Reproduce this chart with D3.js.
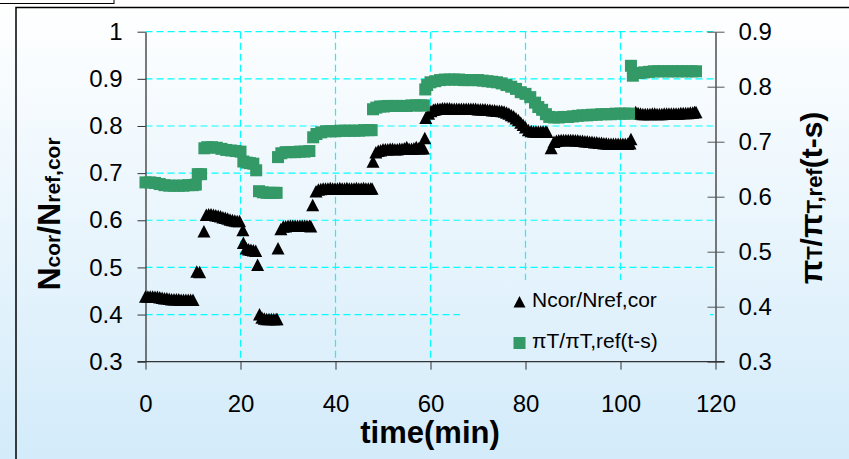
<!DOCTYPE html>
<html><head><meta charset="utf-8">
<script src="https://cdn.jsdelivr.net/npm/d3@7"></script>
<style>body{margin:0;padding:0;overflow:hidden}svg{display:block;font-family:"Liberation Sans",Arial,sans-serif}</style>
</head><body>
<script>
// ---- data ----
const xTicks = [0, 20, 40, 60, 80, 100, 120];
const xGridTicks = [20, 40, 60, 80, 100];
const leftTicks = [0.3, 0.4, 0.5, 0.6, 0.7, 0.8, 0.9, 1.0];
const leftTickLabels = ["0.3", "0.4", "0.5", "0.6", "0.7", "0.8", "0.9", "1"];
const rightTicks = [0.3, 0.4, 0.5, 0.6, 0.7, 0.8, 0.9];
const rightTickLabels = ["0.3", "0.4", "0.5", "0.6", "0.7", "0.8", "0.9"];
const seriesNames = ["Ncor/Nref,cor", "\u03c0T/\u03c0T,ref(t-s)"];

// Ncor/Nref,cor  [time(min), value]  (left axis)
const nCor = [
 [0,.438],[0.5,.438],[1,.438],[1.5,.438],[2,.437],[2.5,.437],[3,.436],[3.5,.435],[4,.434],[4.5,.434],[5,.433],[5.5,.432],[6,.432],[6.5,.432],[7,.432],[7.5,.431],[8,.431],[8.5,.431],[9,.431],[9.5,.431],[10,.431],
 [10.8,.491],[11.4,.490],[12.3,.576],
 [12.8,.611],[13.3,.612],[13.8,.612],[14.3,.611],[14.8,.610],[15.3,.609],[15.8,.608],[16.3,.606],[16.8,.605],[17.3,.603],[17.8,.601],[18.3,.600],[18.8,.599],[19.3,.598],[19.8,.598],
 [20.5,.579],[20.6,.552],[21.2,.540],[21.7,.538],[22.2,.537],[22.7,.536],[23.2,.535],[23.6,.505],
 [24,.400],[24.5,.393],[25,.391],[25.5,.390],[26,.390],[26.5,.390],[27,.390],[27.5,.390],[27.7,.390],
 [27.9,.540],[28.5,.581],[29,.586],[29.5,.587],[30,.588],[30.5,.588],[31,.588],[31.5,.588],[32,.588],[32.5,.588],[33,.588],[33.5,.588],[34,.588],[34.5,.588],[34.8,.587],
 [35.2,.632],
 [35.9,.661],[36.4,.665],[36.9,.666],[37.4,.667],[37.9,.667],[38.4,.667],[38.9,.668],[39.4,.667],[39.9,.667],[40.4,.667],[40.9,.668],[41.4,.667],[41.9,.667],[42.4,.668],[42.9,.667],[43.4,.667],[43.9,.667],[44.4,.668],[44.9,.667],[45.4,.667],[45.9,.668],[46.4,.667],[46.9,.667],[47.4,.667],[47.7,.667],
 [47.9,.724],
 [48.5,.744],[49,.747],[49.5,.748],[50,.750],[50.5,.750],[51,.750],[51.5,.751],[52,.751],[52.5,.750],[53,.750],[53.5,.751],[54,.751],[54.5,.752],[55,.755],[55.5,.751],[56,.751],[56.5,.752],[57,.755],[57.5,.752],[58,.752],[58.5,.752],
 [58.8,.774],[59,.817],[59.6,.826],[60.1,.831],[60.6,.834],
 [61,.835],[61.5,.836],[62,.836],[62.5,.837],[63,.837],[63.5,.837],[64,.837],[64.5,.836],[65,.836],[65.5,.836],[66,.836],[66.5,.836],[67,.836],[67.5,.836],[68,.836],[68.5,.836],[69,.836],[69.5,.836],[70,.835],[70.5,.835],[71,.835],[71.5,.835],[72,.834],[72.5,.834],[73,.833],[73.5,.833],[74,.832],[74.5,.832],[75,.831],[75.5,.830],
 [76,.828],[76.5,.826],[77,.823],[77.5,.820],[78,.816],[78.5,.812],[79,.807],[79.5,.802],[80,.797],
 [80.6,.791],[81.2,.789],[81.7,.788],[82.2,.788],[82.7,.788],[83.2,.788],[83.7,.788],[84.2,.787],[84.5,.787],
 [85.4,.753],
 [86,.766],[86.5,.768],[87,.769],[87.5,.770],[88,.770],[88.5,.770],[89,.770],[89.5,.770],[90,.770],[90.5,.769],[91,.769],[91.5,.768],[92,.768],[92.5,.767],[93,.767],[93.5,.766],[94,.766],[94.5,.765],[95,.765],[95.5,.764],[96,.764],[96.5,.763],[97,.763],[97.5,.762],[98,.762],[98.5,.762],[99,.762],[99.5,.762],[100,.762],[100.5,.762],[101,.762],[101.5,.762],[102,.763],[102.2,.772],
 [103.2,.829],[103.7,.827],[104.2,.826],[104.7,.825],[105.2,.825],[105.7,.825],[106.2,.825],[106.7,.826],[107.2,.826],[107.7,.825],[108.2,.825],[108.7,.825],[109.2,.826],[109.7,.826],[110.2,.826],[110.7,.826],[111.2,.826],[111.7,.826],[112.2,.826],[112.7,.827],[113.2,.827],[113.7,.827],[114.2,.827],[114.7,.828],[115.2,.828],[115.6,.829],[115.9,.829]
];

// piT/piT,ref(t-s)  [time(min), value]  (right axis)
const piT = [
 [0,.626],[1,.626],[2,.625],[3,.623],[4,.621],[5,.620],[6,.620],[7,.620],[8,.620],[9,.621],[10,.621],[10.6,.622],
 [11,.641],[11.7,.641],
 [12.4,.688],[13,.690],[14,.690],[15,.689],[16,.687],[17,.685],[18,.684],[19,.683],[20,.682],
 [20.6,.664],[21.3,.662],[22,.661],[22.7,.660],[23.3,.648],
 [23.9,.610],[24.7,.608],[25.5,.607],[26.3,.607],[27,.607],[27.6,.607],
 [27.9,.672],[28.6,.679],[29.5,.681],[30.5,.681],[31.5,.681],[32.5,.682],[33.5,.682],[34.5,.683],
 [35.3,.708],[36,.714],[37,.717],[38,.719],[39,.719],[40,.719],[41,.720],[42,.720],[43,.720],[44,.720],[45,.720],[46,.721],[47,.721],[47.6,.721],
 [47.9,.759],[48.6,.762],[49.4,.764],[50.2,.764],[51,.765],[52,.765],[53,.765],[54,.765],[55,.765],[56,.766],[57,.766],[58,.766],[58.6,.766],
 [58.9,.795],[59.3,.803],[60,.808],[61,.810],[62,.812],[63,.813],[64,.813],[65,.813],[66,.813],[67,.812],[68,.812],[69,.812],[70,.812],[71,.811],[72,.810],[73,.809],[74,.808],[75,.806],[76,.803],[77,.800],
 [78,.796],[79,.790],[80,.787],[81,.781],[82,.771],[82.7,.763],[83.5,.758],[84.3,.750],[85,.745],
 [86,.744],[87,.744],[88,.745],[89,.745],[90,.746],[91,.747],[92,.748],[93,.748],[94,.749],[95,.749],[96,.750],[97,.750],[98,.750],[99,.751],[100,.751],[101,.751],[101.8,.751],
 [102.2,.838],[102.6,.820],[103.2,.825],[104,.825],[105,.826],[106,.827],[107,.828],[108,.828],[109,.828],[110,.828],[111,.828],[112,.828],[113,.828],[114,.828],[115,.828],[115.9,.828]
];

// ---- drawing ----
const W = 849, H = 459;
const svg = d3.select("body").append("svg").attr("width", W).attr("height", H);
const defs = svg.append("defs");
const grad = defs.append("linearGradient").attr("id","bg").attr("gradientUnits","userSpaceOnUse")
  .attr("x1",0).attr("y1",0).attr("x2",0).attr("y2",H);
grad.append("stop").attr("offset","0").attr("stop-color","#ffffff");
grad.append("stop").attr("offset","1").attr("stop-color","#d3ebfa");
svg.append("rect").attr("width",W).attr("height",H).attr("fill","url(#bg)");

const x = d3.scaleLinear().domain([0,120]).range([145.5,715.5]);
const yL = d3.scaleLinear().domain([0.3,1.0]).range([361.7,31.7]);
const yR = d3.scaleLinear().domain([0.3,0.9]).range([361.7,31.7]);

// gridlines
const grid = svg.append("g").attr("stroke","#00ffff").attr("stroke-width",1.2).attr("stroke-dasharray","7,4");
grid.selectAll("line.h").data(leftTicks.slice(1)).join("line")
  .attr("x1",x(0)).attr("x2",x(120)).attr("y1",d=>yL(d)).attr("y2",d=>yL(d));
grid.selectAll("line.v").data(xGridTicks).join("line")
  .attr("x1",d=>x(d)).attr("x2",d=>x(d)).attr("y1",yL(1)).attr("y2",yL(0.3));

// legend background (hides gridlines)
svg.append("rect").attr("x",460).attr("y",280).attr("width",250).attr("height",81).attr("fill","url(#bg)");

// axes
const fontAxis = g => g.selectAll("text").style("font-size","24px").style("font-family","'Liberation Sans',Arial,sans-serif").attr("fill","#000");
const axL = svg.append("g").attr("transform",`translate(${x(0)},0)`)
  .call(d3.axisLeft(yL).tickValues(leftTicks).tickFormat((d,i)=>leftTickLabels[i]).tickSizeInner(8).tickSizeOuter(0).tickPadding(15));
axL.call(fontAxis);
const axR = svg.append("g").attr("transform",`translate(${x(120)},0)`)
  .call(d3.axisRight(yR).tickValues(rightTicks).tickFormat((d,i)=>rightTickLabels[i]).tickSizeInner(9).tickSizeOuter(0).tickPadding(14));
axR.selectAll(".tick line").attr("x1",-8).attr("stroke","#555");
axR.call(fontAxis);
const axB = svg.append("g").attr("transform",`translate(0,${yL(0.3)})`)
  .call(d3.axisBottom(x).tickValues(xTicks).tickFormat(d3.format("d")).tickSizeInner(8).tickSizeOuter(0).tickPadding(25));
axB.call(fontAxis);
axB.select(".domain").attr("d",`M${x(0)-8},0H${x(120)+9}`);
[axL,axR,axB].forEach(a=>{a.select(".domain").attr("stroke","#333").attr("stroke-width",1.3);});
axL.selectAll(".tick line").attr("stroke","#333");
axB.selectAll(".tick line").attr("stroke","#333");

// data
const tri = "M0,-6.5L6.5,6L-6.5,6Z";
svg.append("g").selectAll("path").data(nCor).join("path")
  .attr("d",tri).attr("fill","#000").attr("transform",d=>`translate(${x(d[0])},${yL(d[1])})`);
svg.append("g").selectAll("rect").data(piT).join("rect")
  .attr("x",d=>x(d[0])-6).attr("y",d=>yR(d[1])-6).attr("width",12).attr("height",12).attr("fill","#339966");

// legend
svg.append("path").attr("d","M0,-6L6,5.5L-6,5.5Z").attr("fill","#000").attr("transform","translate(519.5,302)");
svg.append("text").attr("x",532).attr("y",307).style("font-size","21px").text(seriesNames[0]);
svg.append("rect").attr("x",513.5).attr("y",337).attr("width",12).attr("height",12).attr("fill","#339966");
svg.append("text").attr("x",532).attr("y",348).style("font-size","21px").text(seriesNames[1]);

// axis titles
function title(tx, ty, parts){
  const t = svg.append("text").attr("transform",`translate(${tx},${ty}) rotate(-90)`)
    .attr("text-anchor","middle").style("font-weight","bold");
  parts.forEach(p=>t.append("tspan").style("font-size",p[1]+"px").text(p[0]));
}
title(60,214,[["N",32],["cor",21],["/N",32],["ref,cor",21]]);
title(822,198,[["\u03c0",32],["T",22],["/",30],["\u03c0",32],["T,ref",22],["(t-s)",30]]);
svg.append("text").attr("x",430).attr("y",443).attr("text-anchor","middle")
  .style("font-weight","bold").style("font-size","31px").text("time(min)");

// frame
svg.append("path").attr("d","M16,459V7.5H849").attr("fill","none").attr("stroke","#000").attr("stroke-width",1.5);
svg.append("rect").attr("x",-1).attr("y",-1).attr("width",115).attr("height",4.5).attr("fill","#fff").attr("stroke","#000").attr("stroke-width",1);
</script>
</body></html>
